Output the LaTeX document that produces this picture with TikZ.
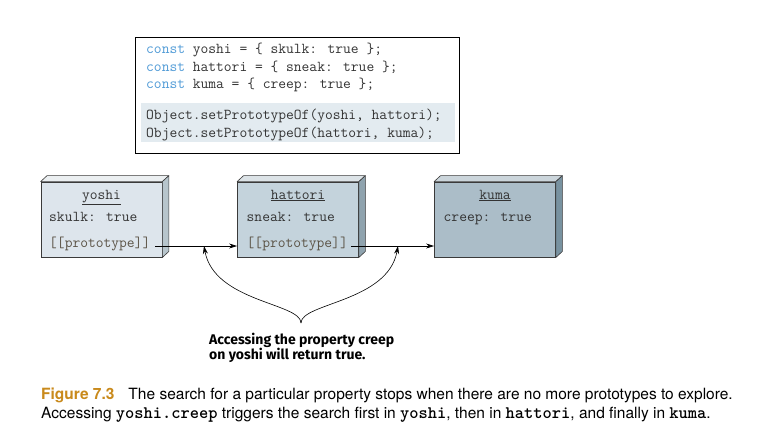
\documentclass[tikz,border=0pt]{standalone}
\usepackage{fontspec}
\setmainfont{Liberation Serif}
\newfontfamily\notefont{Fira Sans}
\newfontfamily\capfont{TeX Gyre Heros}
\usetikzlibrary{arrows.meta}
\definecolor{kwblue}{HTML}{4F9AD6}
\definecolor{shade}{HTML}{E3EBF0}
\definecolor{protoc}{HTML}{5B5346}
\definecolor{txtc}{HTML}{333333}
\definecolor{edgec}{HTML}{3A3A3A}
\definecolor{yfront}{HTML}{DDE5EC}
\definecolor{ytop}{HTML}{EBEFF1}
\definecolor{yside}{HTML}{B7C5CC}
\definecolor{hfront}{HTML}{C4D3DC}
\definecolor{htop}{HTML}{DCE3E7}
\definecolor{hside}{HTML}{8FA3AE}
\definecolor{kfront}{HTML}{ABBDC8}
\definecolor{ktop}{HTML}{CBD5DB}
\definecolor{kside}{HTML}{7892A0}
\definecolor{figorange}{HTML}{C98A1C}
\tikzset{
  codeline/.style={anchor=base west, inner sep=0pt, font=\ttfamily\fontsize{15.1}{18}\selectfont, text=txtc},
  boxtext/.style={anchor=base west, inner sep=0pt, font=\ttfamily\fontsize{15.1}{18}\selectfont, text=txtc},
  prototext/.style={boxtext, text=protoc},
  titletext/.style={anchor=base, inner sep=0pt, font=\ttfamily\fontsize{15.1}{18}\selectfont, text=txtc},
  front/.style={draw=edgec, line width=0.8pt, minimum width=121pt, minimum height=75pt, inner sep=0pt},
  face/.style={draw=edgec, line width=0.6pt, line join=round},
  link/.style={draw=black, line width=0.8pt, -{Stealth[length=8pt,width=5pt]}},
  callout/.style={draw=black, line width=0.6pt, -{Stealth[length=8pt,width=5pt]}},
  captext/.style={anchor=base west, inner sep=0pt, font=\capfont\fontsize{15.5}{18}\selectfont},
}
\newcommand{\cubefaces}[3]{%
  \path[face, fill=#2] (#1.north west) -- ++(6.5,-6) -- ([xshift=6.5pt,yshift=6pt]#1.north east) -- (#1.north east) -- cycle;
  \path[face, fill=#3] (#1.north east) -- ++(6.5,-6) -- ([xshift=6.5pt,yshift=6pt]#1.south east) -- (#1.south east) -- cycle;
}
\newcommand{\capcode}[1]{{\ttfamily\bfseries\fontsize{17.6}{18}\selectfont #1}}
\begin{document}
\begin{tikzpicture}[x=1pt, y=-1pt]
\useasboundingbox (0,0) rectangle (780,434);
% code box
\node[draw=black, line width=0.8pt, minimum width=324pt, minimum height=116pt, inner sep=0pt] (codebox) at (297,95) {};
\node[fill=shade, minimum width=314pt, minimum height=39pt, inner sep=0pt] (shadebox) at (298,122.5) {};
\node[codeline] (c1) at (146,53.5) {\textcolor{kwblue}{const} yoshi = \{ skulk: true \};};
\node[codeline] (c2) at (146,71) {\textcolor{kwblue}{const} hattori = \{ sneak: true \};};
\node[codeline] (c3) at (146,88.5) {\textcolor{kwblue}{const} kuma = \{ creep: true \};};
\node[codeline] (c4) at (146,119.5) {Object.setPrototypeOf(yoshi, hattori);};
\node[codeline] (c5) at (146,137) {Object.setPrototypeOf(hattori, kuma);};
% objects
\node[front, fill=yfront] (yoshi) at (101.5,219.5) {};
\cubefaces{yoshi}{ytop}{yside}
\node[front, fill=hfront] (hattori) at (298,219.5) {};
\cubefaces{hattori}{htop}{hside}
\node[front, fill=kfront] (kuma) at (495,219.5) {};
\cubefaces{kuma}{ktop}{kside}
\node[titletext] (yt) at (101.5,199) {\underline{yoshi}};
\node[boxtext] (ys) at (49,221) {skulk: true};
\node[prototext] (yp) at (49,247) {[[prototype]]};
\node[titletext] (ht) at (298,199) {\underline{hattori}};
\node[boxtext] (hs) at (246.5,221) {sneak: true};
\node[prototext] (hp) at (246.5,247) {[[prototype]]};
\node[titletext] (kt) at (495,199) {\underline{kuma}};
\node[boxtext] (ks) at (443.5,221) {creep: true};
% links
\coordinate (ya) at (155,246);
\coordinate (ha) at (351,246);
\draw[link] (ya) -- (ya -| hattori.west);
\draw[link] (ha) -- (ha -| kuma.west);
% callout
\coordinate (fork) at (301,323);
\coordinate (tipL) at (204,246);
\coordinate (tipR) at (398,246);
\draw[callout] (fork) .. controls (301,303) and (214,302) .. (tipL);
\draw[callout] (fork) .. controls (301,303) and (388,302) .. (tipR);
\node[anchor=north west, inner sep=0pt, align=left, font=\notefont\bfseries\fontsize{14}{15}\selectfont] (note) at (209,333) {Accessing the property creep\\on yoshi will return true.};
% caption
\node[captext] (cap1) at (41,399) {\textcolor{figorange}{\bfseries Figure 7.3}\hspace{14pt}The search for a particular property stops when there are no more prototypes to explore.};
\node[captext] (cap2) at (41,418) {Accessing \capcode{yoshi.creep} triggers the search first in \capcode{yoshi}, then in \capcode{hattori}, and finally in \capcode{kuma}.};
\end{tikzpicture}
\end{document}
